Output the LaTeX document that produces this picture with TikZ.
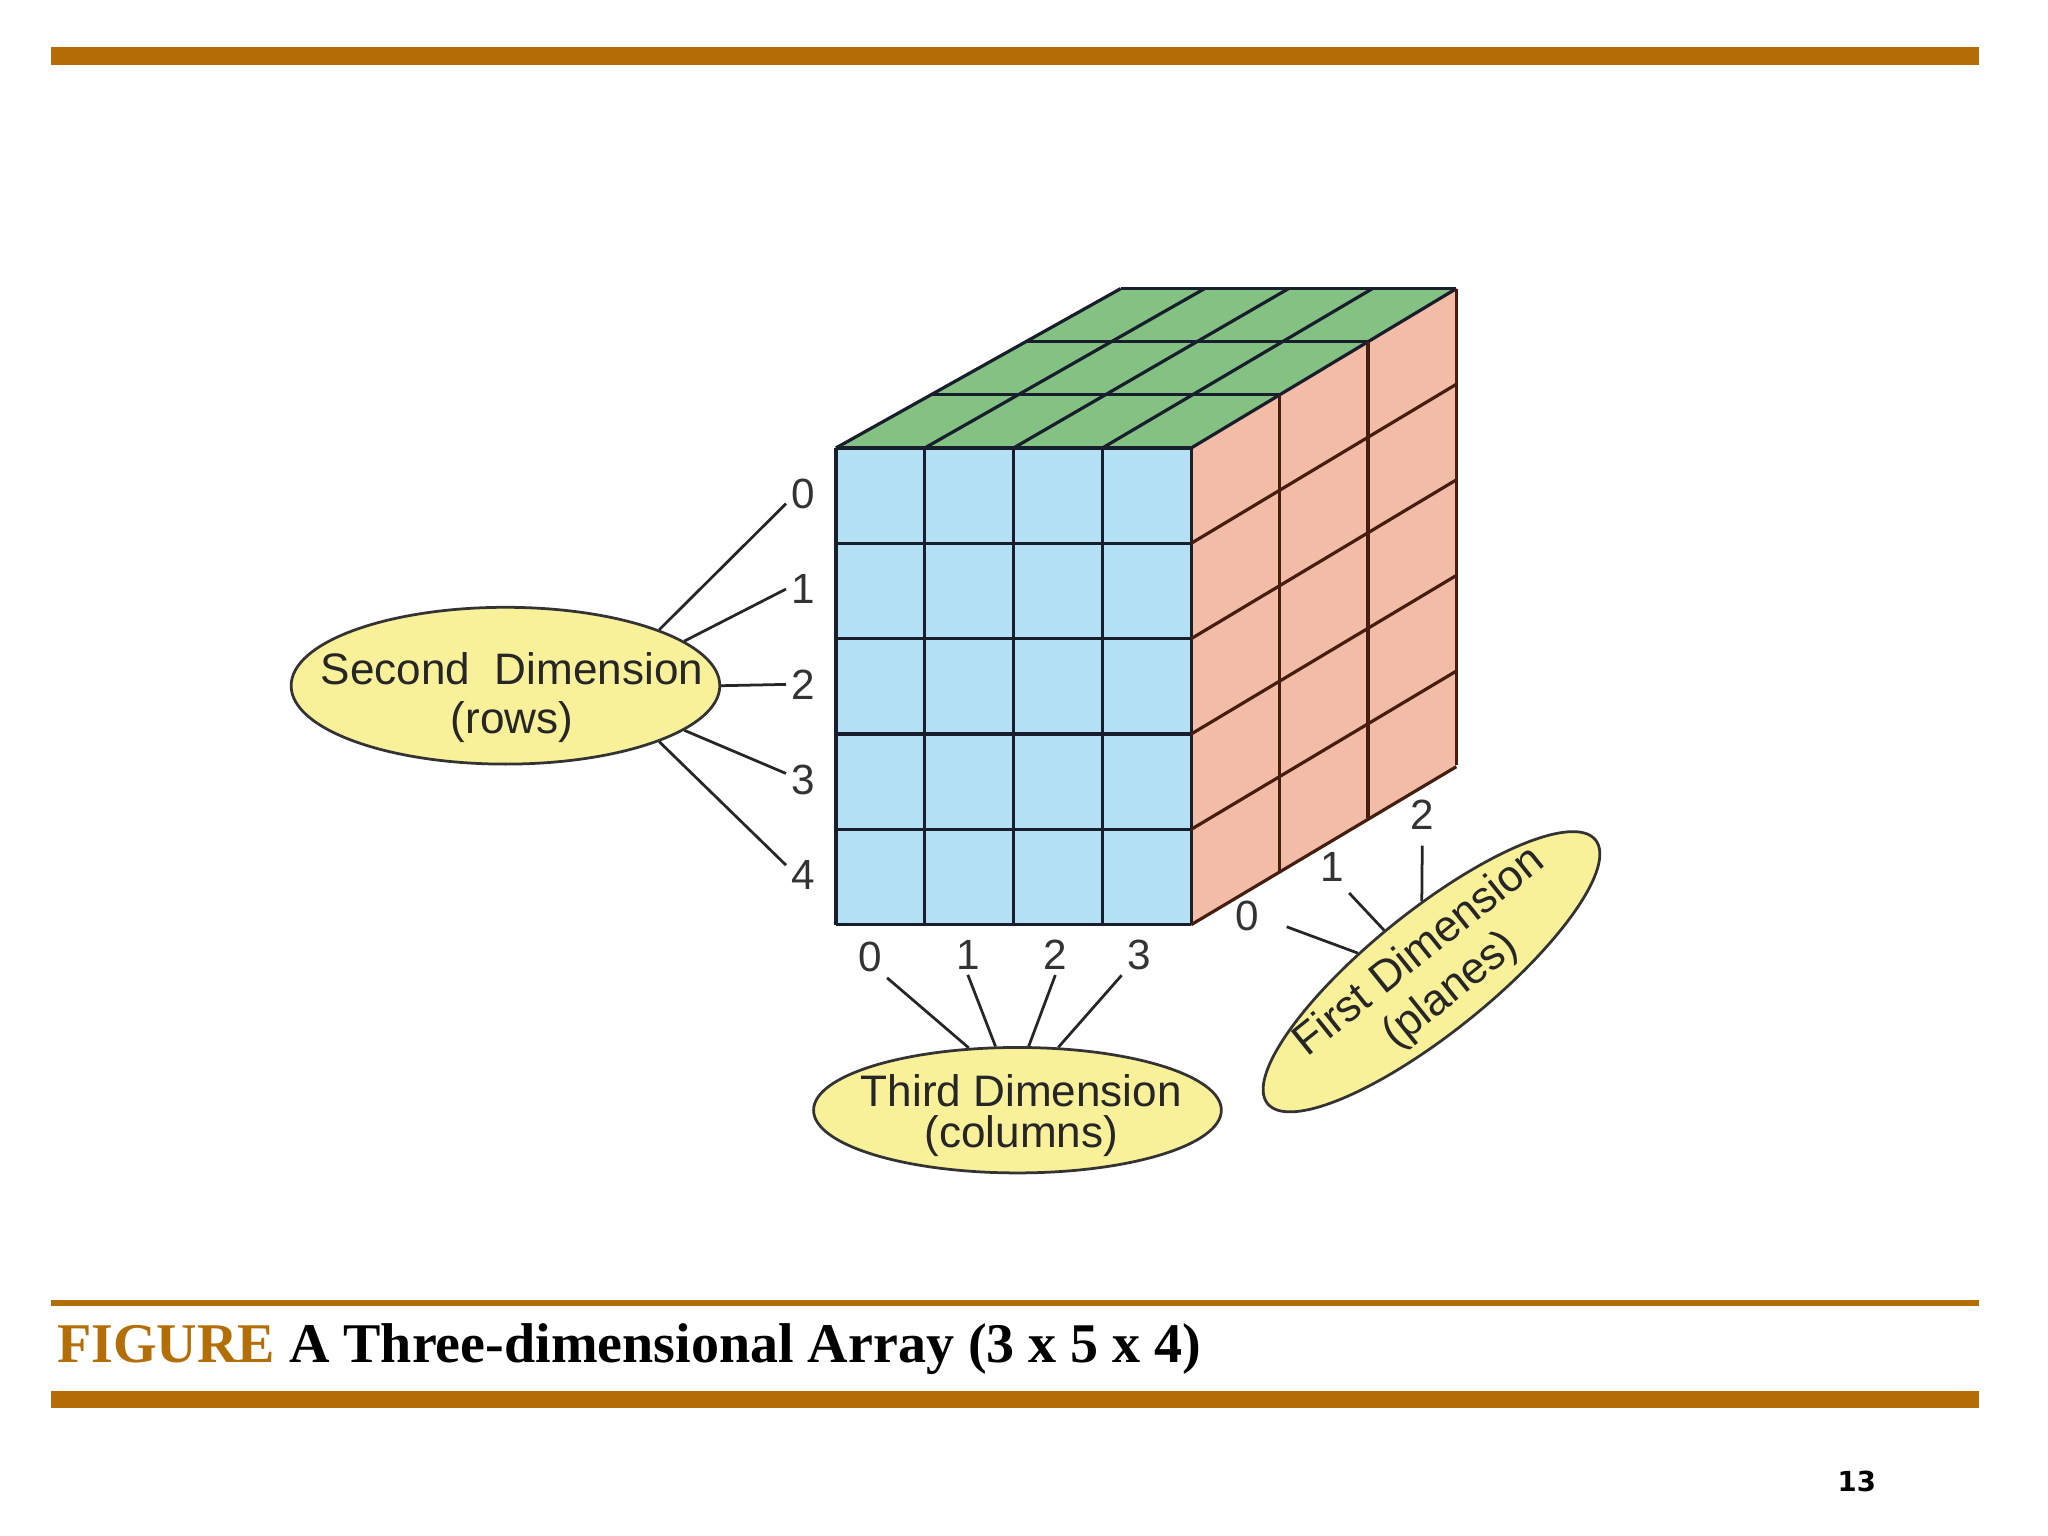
\documentclass[tikz,border=0pt]{standalone}
\usepackage{fontspec}
\setmainfont{Liberation Serif}
\newfontfamily\labelfont{Liberation Sans}
\newfontfamily\pagefont{DejaVu Sans}
\usetikzlibrary{shapes.geometric}

\definecolor{barbrown}{RGB}{180,110,8}
\definecolor{frontblue}{RGB}{180,224,245}
\definecolor{topgreen}{RGB}{132,194,132}
\definecolor{sidesalmon}{RGB}{243,188,166}
\definecolor{ellyellow}{RGB}{249,240,154}
\definecolor{gridnavy}{RGB}{25,30,45}
\definecolor{gridbrown}{RGB}{70,30,15}

\begin{document}
\begin{tikzpicture}[x=0.01cm, y=-0.01cm,
    cubeline/.style={line width=0.7pt, gridnavy},
    sideline/.style={line width=0.7pt, gridbrown},
    dimell/.style={ellipse, draw=black!80, line width=0.6pt, fill=ellyellow, inner sep=0pt},
    dimtext/.style={align=center, text=black!85, font=\labelfont\fontsize{9.6}{10.8}\selectfont},
    idx/.style={inner sep=1pt, text=black!80, font=\labelfont\fontsize{9.2}{10}\selectfont},
    link/.style={line width=0.6pt, black!85}]
  \useasboundingbox (0,0) rectangle (1568,1176);
  \fill[white] (0,0) rectangle (1568,1176);

  % Bandeaux
  \fill[barbrown] (39,36) rectangle (1515,50);
  \fill[barbrown] (39,995) rectangle (1515,1000);
  \fill[barbrown] (39,1065) rectangle (1515,1078);

  % Faces du cube
  \fill[topgreen] (640,343) -- (912,343) -- (1115,221) -- (858,221) -- cycle;
  \fill[frontblue] (640,343) rectangle (912,708);
  \fill[sidesalmon] (912,343) -- (1115,221) -- (1115,587) -- (912,708) -- cycle;

  % Grille avant et dessus
  \foreach \i in {0,...,4} {
    \draw[cubeline] ({640+68*\i},343) -- ({640+68*\i},708);
    \draw[cubeline] ({640+68*\i},343) -- ({858+64.25*\i},221);
  }
  \foreach \j in {0,...,5}
    \draw[cubeline] (640,{343+73*\j}) -- (912,{343+73*\j});
  \foreach \k in {1,2,3}
    \draw[cubeline] ({640+72.67*\k},{343-40.67*\k}) -- ({912+67.67*\k},{343-40.67*\k});

  % Grille du cote
  \foreach \k in {1,2,3}
    \draw[sideline] ({912+67.67*\k},{343-40.67*\k}) -- ({912+67.67*\k},{708-40.67*\k});
  \foreach \j in {1,...,5}
    \draw[sideline] (912,{343+73*\j}) -- (1115,{221+73.2*\j});

  % Ellipses
  \node[dimell, minimum width=3.28cm, minimum height=1.2cm] (second) at (387,525) {};
  \node[dimtext] at (392,534) {Second~~Dimension\\(rows)};
  \node[dimell, minimum width=3.12cm, minimum height=0.96cm] (third) at (779,850) {};
  \node[dimtext, font=\labelfont\fontsize{9.6}{9}\selectfont] at (782,854) {Third Dimension\\(columns)};
  \node[dimell, minimum width=3.22cm, minimum height=0.93cm, rotate=38.8] (first) at (1096,744) {};
  \node[dimtext, rotate=38.8] at (1099,744) {First Dimension\\(planes)};

  % Indices
  \foreach \j in {0,...,4}
    \node[idx] (r\j) at (615,{378+73*\j}) {\j};
  \node[idx] (c0) at (666,733) {0};
  \node[idx] (c1) at (741,731) {1};
  \node[idx] (c2) at (808,731) {2};
  \node[idx] (c3) at (872,731) {3};
  \node[idx] (p0) at (955,701) {0};
  \node[idx] (p1) at (1020,664) {1};
  \node[idx] (p2) at (1089,624) {2};

  % Liens
  \draw[link] (second.20) -- (r0.210);
  \draw[link] (second.14) -- (r1.west);
  \draw[link] (second.0) -- (r2.west);
  \draw[link] (second.-14) -- (r3.160);
  \draw[link] (second.-20) -- (r4.150);
  \draw[link] (third.128) -- (c0.south east);
  \draw[link] (third.109) -- (c1.south);
  \draw[link] (third.80) -- (c2.south);
  \draw[link] (third.57) -- (c3.south west);
  \draw[link, shorten >=0.18cm] (first.127) -- (p0.-10);
  \draw[link, shorten >=0.06cm] (first.100) -- (p1.-60);
  \draw[link, shorten >=0.08cm] (first.59) -- (p2.south);

  % Legende
  \node[anchor=base west, inner sep=0pt, font=\fontsize{12.2}{14}\selectfont\bfseries] (caption) at (43,1043)
    {\textcolor{barbrown}{FIGURE} A Three-dimensional Array (3 x 5 x 4)};
  \node[anchor=base east, inner sep=0pt, font=\pagefont\fontsize{6}{7}\selectfont\bfseries] (pagenum) at (1437,1142) {13};
\end{tikzpicture}
\end{document}
